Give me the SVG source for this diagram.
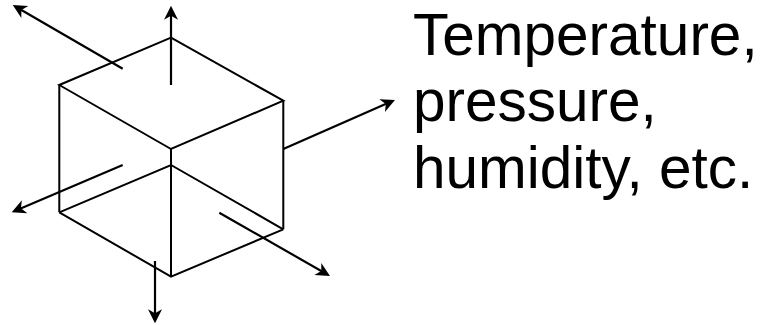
<svg xmlns="http://www.w3.org/2000/svg" width="763" height="325" viewBox="0 0 763 325">
<style>
.edge{fill:none;stroke:#000;stroke-width:2;stroke-linejoin:miter}
.arr{fill:none;stroke:#000;stroke-width:2.2;marker-end:url(#ah)}
.lbl{font-family:"Liberation Sans",Arial,sans-serif;font-size:58.5px;fill:#000}
</style>
<defs>
<marker id="ah" markerUnits="userSpaceOnUse" markerWidth="16" markerHeight="16" viewBox="0 0 16 16" refX="11" refY="8" orient="auto">
<path d="M15,8 L1,1 L5,8 L1,15 Z" fill="#000"/>
</marker>
</defs>
<g id="cube">
<path class="edge" d="M171,37.7 L59.3,85 L171,149 L283.3,100.7 Z"/>
<path class="edge" d="M59.3,85 V212.3 M283.3,100.7 V229.3 M171,149 V276.7"/>
<path class="edge" d="M59.3,212.3 L171,276.7 L283.3,229.3"/>
<path class="edge" d="M59.3,212.3 L171,165 L283.3,229.3"/>
</g>
<g id="connectors">
<line class="arr" x1="122.7" y1="68.7" x2="16.2" y2="7.0"/>
<line class="arr" x1="171" y1="85" x2="171" y2="9.7"/>
<line class="arr" x1="283.3" y1="149" x2="391.3" y2="101.6"/>
<line class="arr" x1="122.7" y1="165" x2="15.4" y2="210.7"/>
<line class="arr" x1="219.3" y1="212.7" x2="326.5" y2="274.0"/>
<line class="arr" x1="155" y1="261" x2="155" y2="319.3"/>
</g>
<g id="label">
<text class="lbl" x="413" y="55">Temperature,</text>
<text class="lbl" x="413" y="121">pressure,</text>
<text class="lbl" x="413" y="188">humidity, etc.</text>
</g>
</svg>
